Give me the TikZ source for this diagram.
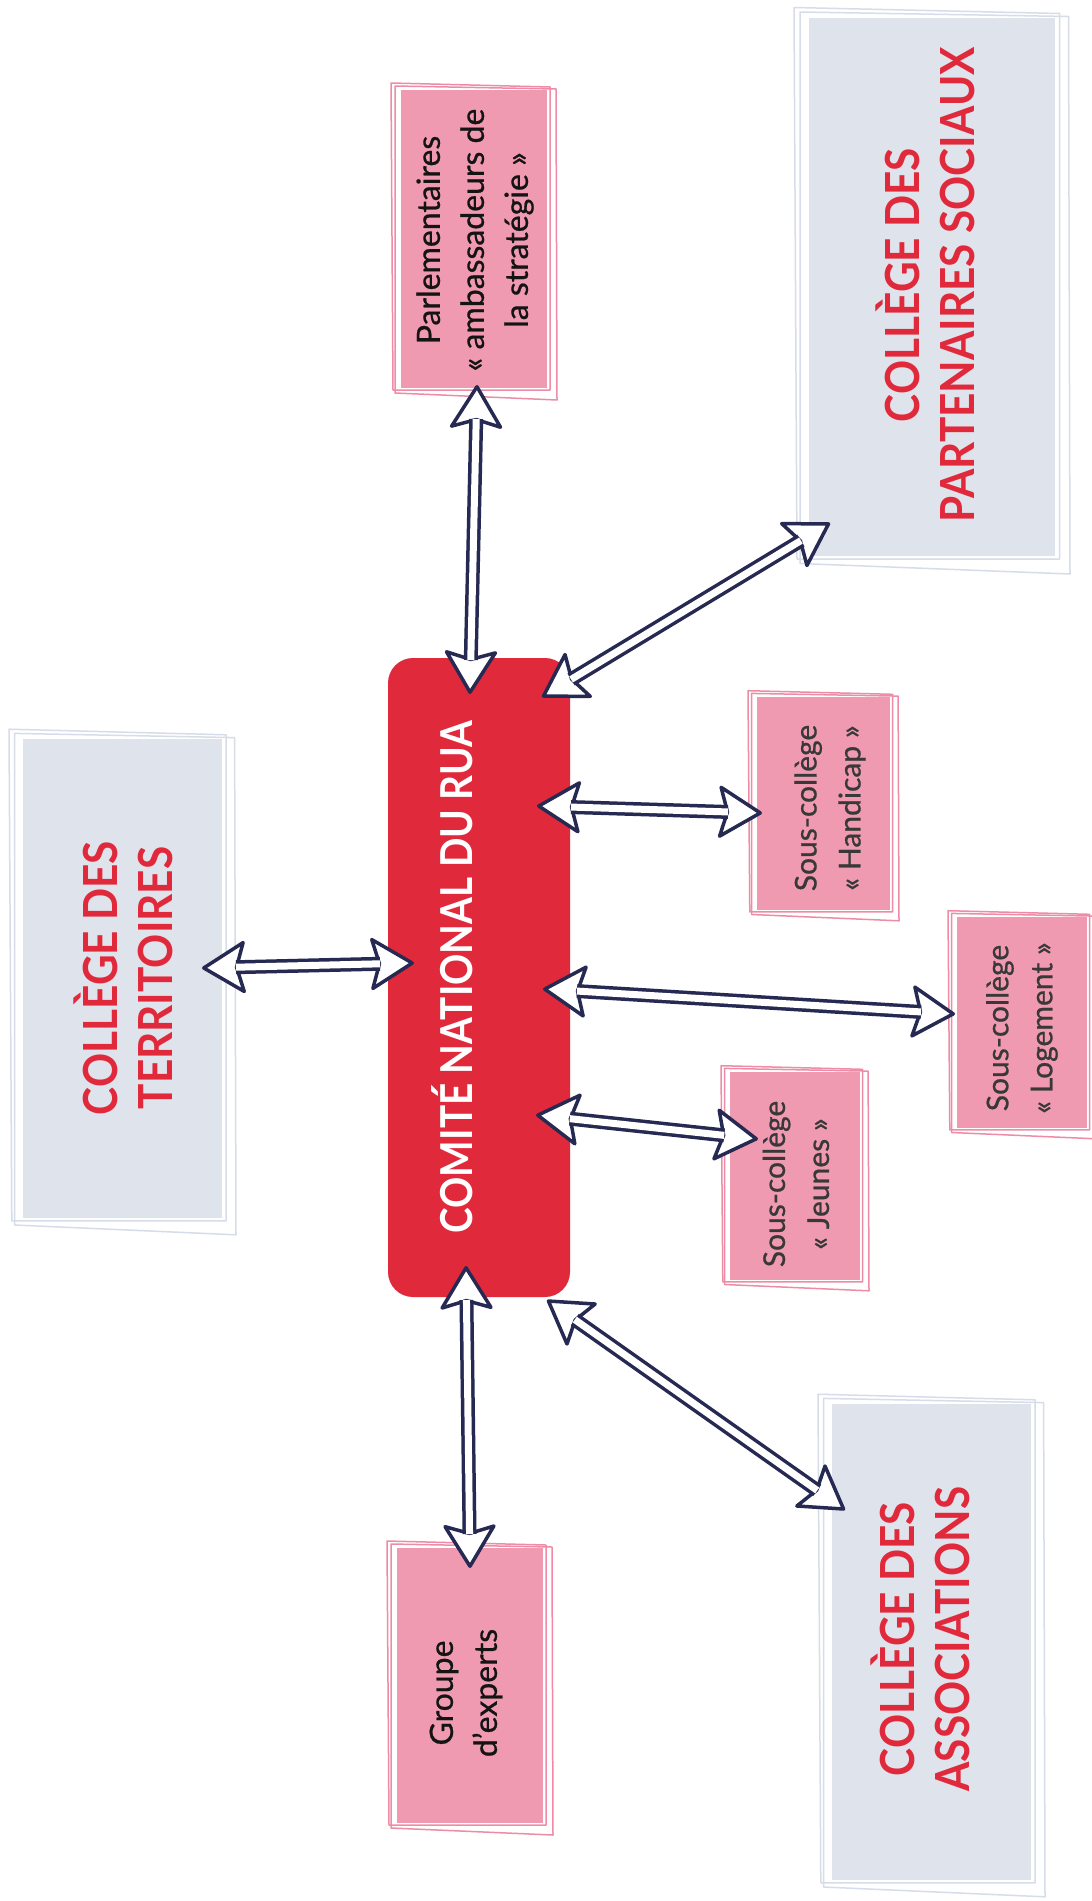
\documentclass[tikz,border=0pt]{standalone}
\usepackage{fontspec}
\setmainfont{Lato}
\newfontfamily\titlefont{Lato}[FakeStretch=0.9]
\newfontfamily\redfont{Lato}[FakeStretch=0.88]
\newfontfamily\medfont{Lato}[FakeBold=0.7]
\usetikzlibrary{arrows.meta,calc}
\definecolor{navy}{HTML}{262A52}
\definecolor{tred}{HTML}{E1293C}
\definecolor{pinkfill}{HTML}{EF9AB0}
\definecolor{pinkline}{HTML}{EE8CA7}
\definecolor{grayfill}{HTML}{DFE3EC}
\definecolor{grayline}{HTML}{D6DCE8}
\definecolor{darktext}{HTML}{141414}
\definecolor{subtext}{HTML}{383838}
\tikzset{
  fillbox/.style={inner sep=0pt, outer sep=0pt, draw=none},
  pinkbox/.style={fillbox, fill=pinkfill},
  graybox/.style={fillbox, fill=grayfill},
  vtext/.style={rotate=90, align=center, inner sep=0pt},
  pinktext/.style={vtext, text=darktext, font=\medfont\fontsize{32}{44}\selectfont},
  subtextstyle/.style={vtext, text=subtext, font=\medfont\fontsize{30}{44}\selectfont},
  titletext/.style={vtext, text=tred, font=\titlefont\bfseries\fontsize{47}{55}\selectfont},
  headline/.style={draw=navy, line width=3.5pt,
    arrows={Stealth[length=46pt, width=56pt, inset=8pt, fill=white, round]-Stealth[length=46pt, width=56pt, inset=8pt, fill=white, round]}},
  shaftline/.style={draw=navy, line width=3.5pt, double=white, double distance=7pt,
    shorten <=34pt, shorten >=34pt},
}
\newcommand{\sketchframe}[3]{%
  \draw[#2, line width=1.5pt, line join=round]
    ($(#1.north west)+#3*(-10,-7)$) -- ($(#1.north east)+#3*(3,-3)$) --
    ($(#1.south east)+#3*(3,2)$) -- ($(#1.south west)+#3*(-8,2)$) -- cycle;
  \draw[#2, line width=1.5pt, line join=round]
    ($(#1.north west)+#3*(-6,-4)$) -- ($(#1.north east)+#3*(9,-1)$) --
    ($(#1.south east)+#3*(10,12)$) -- ($(#1.south west)+#3*(-6,5)$) -- cycle;
}
\newcommand{\biarrow}[2]{%
  \draw[headline] (#1) -- (#2);
  \draw[shaftline] (#1) -- (#2);
}
\begin{document}
\begin{tikzpicture}[x=1pt, y=-1pt]
\fill[white] (0,0) rectangle (1092,1901);
\useasboundingbox (0,0) rectangle (1092,1901);

% central red box
\node[fillbox, fill=tred, rounded corners=25pt, minimum width=182pt, minimum height=639pt] (red) at (479,977.5) {};
\node[vtext, text=white, font=\redfont\bfseries\fontsize{44}{50}\selectfont] (redt) at (452,977) {COMITÉ NATIONAL DU RUA};

% gray boxes
\node[graybox, minimum width=246pt, minimum height=538pt] (part) at (932,287) {};
\sketchframe{part}{grayline}{1.5}
\node[titletext] (partt) at (925,285) {COLLÈGE DES\\PARTENAIRES SOCIAUX};

\node[graybox, minimum width=199pt, minimum height=479pt] (terr) at (122.5,978.5) {};
\sketchframe{terr}{grayline}{1.4}
\node[titletext] (terrt) at (123.5,978) {COLLÈGE DES\\TERRITOIRES};

\node[graybox, minimum width=199pt, minimum height=476pt] (asso) at (931.5,1642) {};
\sketchframe{asso}{grayline}{1.4}
\node[titletext] (assot) at (920.5,1639) {COLLÈGE DES\\ASSOCIATIONS};

% pink boxes
\node[pinkbox, minimum width=146pt, minimum height=298pt] (parl) at (474,239) {};
\sketchframe{parl}{pinkline}{1}
\node[pinktext] (parlt) at (475,240) {Parlementaires\\« ambassadeurs de\\la stratégie »};

\node[pinkbox, minimum width=146pt, minimum height=275pt] (expe) at (470,1685.5) {};
\sketchframe{expe}{pinkline}{1}
\node[pinktext] (expet) at (466,1693) {Groupe\\d’experts};

\node[pinkbox, minimum width=133pt, minimum height=213pt] (hand) at (823.5,803.5) {};
\sketchframe{hand}{pinkline}{0.9}
\node[subtextstyle] (handt) at (830,808) {Sous-collège\\« Handicap »};

\node[pinkbox, minimum width=130pt, minimum height=211pt] (loge) at (1022,1022.5) {};
\sketchframe{loge}{pinkline}{0.9}
\node[subtextstyle] (loget) at (1022,1028) {Sous-collège\\« Logement »};

\node[pinkbox, minimum width=130pt, minimum height=208pt] (jeun) at (795,1176) {};
\sketchframe{jeun}{pinkline}{0.9}
\node[subtextstyle] (jeunt) at (796,1184) {Sous-collège\\« Jeunes »};

% arrow end points
\coordinate (parlE) at (477,385);
\coordinate (redN) at (470,694);
\coordinate (redNE) at (542,697);
\coordinate (partE) at (830,523);
\coordinate (terrE) at (202,968);
\coordinate (redW) at (414,963);
\coordinate (redE1) at (537,806);
\coordinate (handE) at (762,813);
\coordinate (redE2) at (543,989);
\coordinate (logeE) at (955,1014);
\coordinate (redE3) at (536,1115);
\coordinate (jeunE) at (758,1139);
\coordinate (redS) at (466,1266);
\coordinate (expeE) at (470,1568);
\coordinate (redSE) at (547,1300);
\coordinate (assoE) at (845,1510);

\biarrow{parlE}{redN}
\biarrow{redNE}{partE}
\biarrow{terrE}{redW}
\biarrow{redE1}{handE}
\biarrow{redE2}{logeE}
\biarrow{redE3}{jeunE}
\biarrow{redS}{expeE}
\biarrow{redSE}{assoE}
\end{tikzpicture}
\end{document}
